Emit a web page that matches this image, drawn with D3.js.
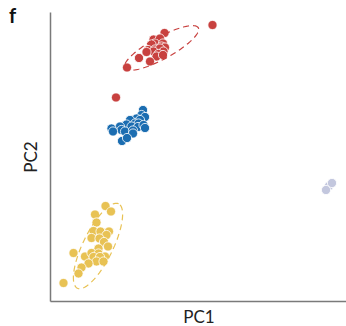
<!DOCTYPE html>
<html>
<head>
<meta charset="utf-8">
<title>PCA</title>
<script src="https://cdn.jsdelivr.net/npm/d3@7"></script>
<style>
  body { margin: 0; background: #fff; }
  text { font-family: Lato, "Open Sans", sans-serif; }
</style>
</head>
<body>
<div id="container"></div>
<script>
  // PCA scores (arbitrary units) for each group
  const redPoints = [
    [162.5, 276], [114.5, 268], [103.5, 261.5], [110, 262.5], [105, 257.5], [101.5, 256.5],
    [113, 257.5], [111.5, 254.5], [115, 253.5], [98, 251], [105, 251.5], [110, 252.5],
    [103.5, 249.5], [113.5, 249.5], [96.5, 249], [108.5, 247], [106.5, 244.5], [113, 246],
    [89, 243], [100, 239.5], [77, 233.5], [66, 203.5]
  ];
  const bluePoints = [
    [93, 191], [91.5, 186], [95, 184], [86.5, 182.5], [90, 181], [80, 181], [85, 177.5],
    [76.5, 176.5], [88.5, 177.5], [70, 174.5], [81.5, 174.5], [88, 174], [93.5, 176],
    [95, 173], [61.5, 172.5], [71.5, 171], [75, 169.5], [83, 170.5], [63, 169.5],
    [83, 167.5], [72, 160], [77, 163]
  ];
  const yellowPoints = [
    [55.5, 95], [61, 89.5], [45, 86.5], [46.5, 78.5], [43.5, 70], [50.5, 69.5], [59, 69.5],
    [56.5, 66], [41.5, 63], [49.5, 62.5], [54, 59], [48.5, 52.5], [58, 54.5], [23.5, 48],
    [35, 44.5], [41.5, 48], [48.5, 47.5], [55, 44.5], [43.5, 44], [50, 44], [46.5, 39.5],
    [53.5, 39.5], [38.5, 37.5], [31.5, 33.5], [28.5, 27.5], [13.5, 18]
  ];
  const grayPoints = [[279, 115], [276, 111], [282, 118]];

  // confidence ellipses: center, semi-axes, angle (deg, counter-clockwise)
  const redEllipse = { cx: 111.5, cy: 253, rx: 42, ry: 11, angle: 28.7 };
  const yellowEllipse = { cx: 48, cy: 55, rx: 47, ry: 15, angle: 64 };

  const width = 346;
  const height = 326;
  const marginLeft = 50;
  const marginRight = 0;
  const marginTop = 12;
  const marginBottom = 25;

  const x = d3.scaleLinear()
      .domain([0, 296])
      .range([marginLeft, width - marginRight]);

  const y = d3.scaleLinear()
      .domain([0, 289])
      .range([height - marginBottom, marginTop]);

  const svg = d3.create("svg")
      .attr("width", width)
      .attr("height", height);

  // Axes with no ticks
  svg.append("g")
      .attr("transform", `translate(0,${height - marginBottom})`)
      .call(d3.axisBottom(x).ticks(0).tickSizeOuter(0))
      .call(g => g.select(".domain").attr("stroke", "#7a7a7a").attr("stroke-width", 1.5));

  svg.append("g")
      .attr("transform", `translate(${marginLeft},0)`)
      .call(d3.axisLeft(y).ticks(0).tickSizeOuter(0))
      .call(g => g.select(".domain").attr("stroke", "#7a7a7a").attr("stroke-width", 1.5));

  // Ellipse outline through the scales
  const ellipsePath = e => {
    const a = e.angle * Math.PI / 180;
    const pts = d3.range(0, 361, 4).map(t => {
      const r = t * Math.PI / 180;
      const ux = e.rx * Math.cos(r), uy = e.ry * Math.sin(r);
      return [x(e.cx + ux * Math.cos(a) - uy * Math.sin(a)),
              y(e.cy + ux * Math.sin(a) + uy * Math.cos(a))];
    });
    return d3.line()(pts);
  };

  const groups = [
    { pts: redPoints, color: "#c8413f" },
    { pts: bluePoints, color: "#1b6db1" },
    { pts: yellowPoints, color: "#e8c254" },
    { pts: grayPoints, color: "#c3c7de" }
  ];

  groups.forEach(g => {
    svg.append("g")
        .selectAll("circle")
        .data(g.pts)
        .enter().append("circle")
        .attr("cx", d => x(d[0]))
        .attr("cy", d => y(d[1]))
        .attr("r", 4.6)
        .attr("fill", g.color)
        .attr("stroke", "#fff")
        .attr("stroke-width", 0.8);
  });

  svg.append("path")
      .attr("d", ellipsePath(redEllipse))
      .attr("fill", "none")
      .attr("stroke", "#c8413f")
      .attr("stroke-width", 1.2)
      .attr("stroke-dasharray", "6,4");

  svg.append("path")
      .attr("d", ellipsePath(yellowEllipse))
      .attr("fill", "none")
      .attr("stroke", "#e8c254")
      .attr("stroke-width", 1.2)
      .attr("stroke-dasharray", "6,4");

  // Labels
  svg.append("text")
      .attr("x", 199)
      .attr("y", 323)
      .attr("text-anchor", "middle")
      .attr("font-size", 17)
      .attr("fill", "#222")
      .text("PC1");

  svg.append("text")
      .attr("transform", "translate(37,157) rotate(-90)")
      .attr("text-anchor", "middle")
      .attr("font-size", 17)
      .attr("fill", "#222")
      .text("PC2");

  svg.append("text")
      .attr("x", 9)
      .attr("y", 23)
      .attr("font-size", 20)
      .attr("font-weight", "bold")
      .attr("fill", "#111")
      .text("f");

  document.getElementById("container").append(svg.node());
</script>
</body>
</html>
